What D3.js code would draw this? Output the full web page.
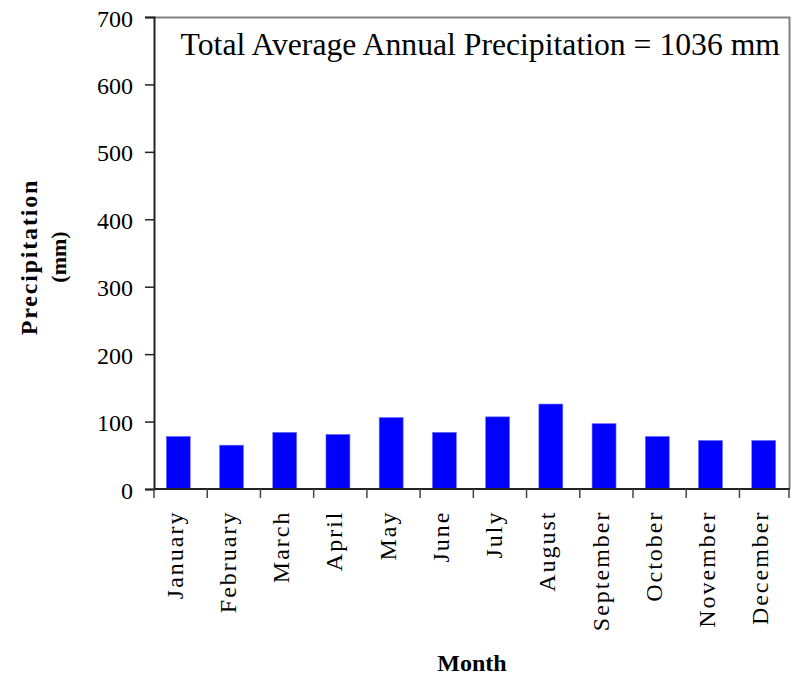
<!DOCTYPE html>
<html>
<head>
<meta charset="utf-8">
<script src="https://cdn.jsdelivr.net/npm/d3@7"></script>
<style>
  html, body { margin: 0; padding: 0; background: #fff; }
  svg text { font-family: "Liberation Serif", "Times New Roman", serif; fill: #000; }
</style>
</head>
<body>
<svg id="chart" width="798" height="678"></svg>
<script>
// Monthly average precipitation (mm)
const months = ["January", "February", "March", "April", "May", "June",
                "July", "August", "September", "October", "November", "December"];
const precipitation = [78, 65, 84, 81, 106, 84, 107, 126, 97, 78, 72, 72];
const yTicks = [0, 100, 200, 300, 400, 500, 600, 700];
const totalLabel = "Total Average Annual Precipitation = 1036 mm";

const svg = d3.select("#chart");
const margin = { left: 154, top: 17, right: 8, bottom: 189 };
const width = 798 - margin.left - margin.right;
const height = 678 - margin.top - margin.bottom;

const g = svg.append("g").attr("transform", `translate(${margin.left},${margin.top})`);

const x = d3.scaleBand().domain(months).range([0, width]).paddingInner(0.55).paddingOuter(0.25);
const y = d3.scaleLinear().domain([0, 700]).range([height, 0]);

// plot frame (top and right edges)
g.append("path")
  .attr("d", `M0,0.5H${width - 0.5}V${height}`)
  .attr("fill", "none")
  .attr("stroke", "#808080")
  .attr("stroke-width", 2);

// bars
g.selectAll("rect.bar")
  .data(precipitation)
  .join("rect")
  .attr("class", "bar")
  .attr("x", (d, i) => x(months[i]) - 1)
  .attr("width", x.bandwidth())
  .attr("y", d => y(d))
  .attr("height", d => y(0) - y(d))
  .attr("fill", "#0000ff")
  .attr("stroke", "#7070ff")
  .attr("stroke-width", 0.6);

// y axis
const yAxis = g.append("g")
  .call(d3.axisLeft(y).tickValues(yTicks).tickSize(9).tickPadding(12).tickFormat(d3.format("d")));
yAxis.select(".domain").attr("stroke", "#222").attr("stroke-width", 2);
yAxis.selectAll(".tick line").attr("stroke", "#222").attr("stroke-width", 1.5);
yAxis.selectAll(".tick text")
  .attr("font-size", 24)
  .attr("font-family", null)
  .attr("dy", "0.38em")
  .attr("fill", "#000");

// x axis with boundary ticks between months
const xAxis = g.append("g").attr("transform", `translate(0,${height})`);
xAxis.append("line")
  .attr("x1", 0).attr("x2", width)
  .attr("stroke", "#222").attr("stroke-width", 2);
const step = x.step();
xAxis.selectAll("line.sep")
  .data(d3.range(months.length + 1))
  .join("line")
  .attr("class", "sep")
  .attr("x1", i => Math.min(i * step, width - 1)).attr("x2", i => Math.min(i * step, width - 1))
  .attr("y1", 0).attr("y2", 9)
  .attr("stroke", "#444").attr("stroke-width", 1.5);

xAxis.selectAll("text.month")
  .data(months)
  .join("text")
  .attr("class", "month")
  .attr("transform", d => `translate(${x(d) + x.bandwidth() / 2 + 3.5},21.5) rotate(-90)`)
  .attr("text-anchor", "end")
  .attr("font-size", 24)
  .style("letter-spacing", "2px")
  .text(d => d);

// total annotation
g.append("text")
  .attr("x", width - 10)
  .attr("y", 37.5)
  .attr("text-anchor", "end")
  .attr("font-size", 31.7)
  .text(totalLabel);

// axis titles
svg.append("text")
  .attr("x", 472)
  .attr("y", 671)
  .attr("text-anchor", "middle")
  .attr("font-size", 24)
  .attr("font-weight", "bold")
  .text("Month");

const yTitle = svg.append("text")
  .attr("transform", `translate(37,${margin.top + height / 2 + 4}) rotate(-90)`)
  .attr("text-anchor", "middle")
  .attr("font-weight", "bold");
yTitle.append("tspan").attr("x", 0).attr("dy", 0)
  .attr("font-size", 24)
  .style("letter-spacing", "1.8px").text("Precipitation");
yTitle.append("tspan").attr("x", 0).attr("dy", 29)
  .attr("font-size", 22)
  .text("(mm)");
</script>
</body>
</html>
